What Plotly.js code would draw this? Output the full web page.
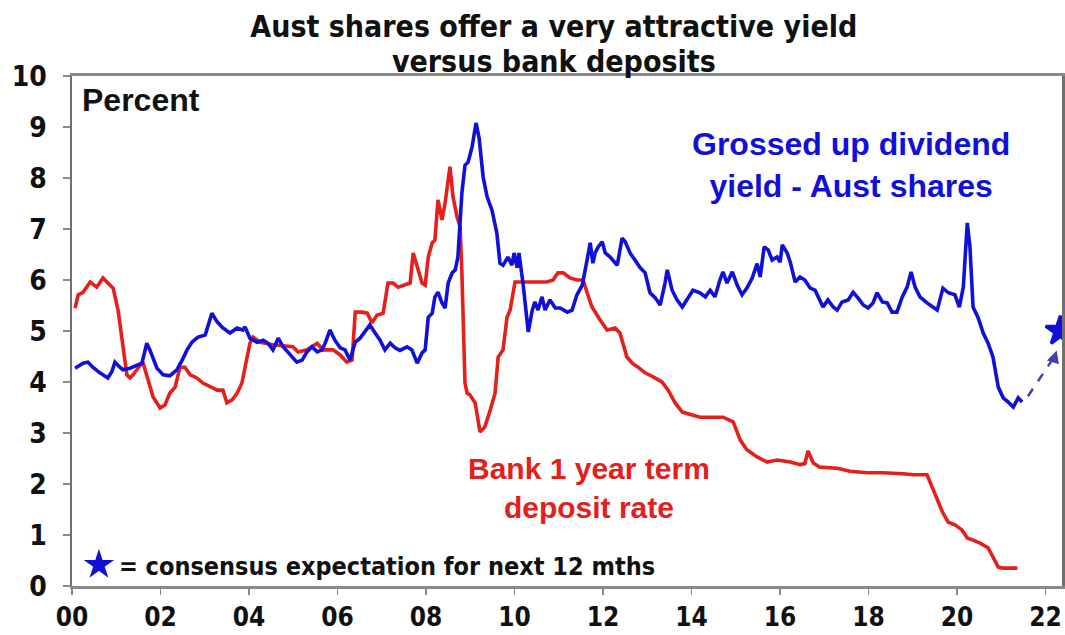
<!DOCTYPE html>
<html>
<head>
<meta charset="utf-8">
<script src="https://cdn.plot.ly/plotly-3.0.1.min.js"></script>
<style>html,body{margin:0;padding:0;background:#fff;}#chart{width:1065px;height:635px;}</style>
</head>
<body>
<div id="chart"></div>
<script>
// Grossed up dividend yield - Aust shares (decimal year, percent)
var divYears = [2000.07,2000.25,2000.36,2000.47,2000.63,2000.75,2000.81,2000.90,2000.97,2001.08,2001.15,2001.31,2001.47,2001.58,2001.69,2001.76,2001.92,2002.06,2002.21,2002.37,2002.49,2002.60,2002.71,2002.85,2003.01,2003.16,2003.28,2003.41,2003.57,2003.73,2003.86,2003.91,2004.02,2004.18,2004.32,2004.43,2004.54,2004.66,2004.77,2004.93,2005.08,2005.20,2005.31,2005.42,2005.54,2005.65,2005.72,2005.83,2005.94,2006.06,2006.17,2006.28,2006.40,2006.51,2006.62,2006.73,2006.85,2006.96,2007.07,2007.19,2007.30,2007.41,2007.57,2007.68,2007.80,2007.91,2007.98,2008.05,2008.14,2008.20,2008.27,2008.36,2008.43,2008.50,2008.59,2008.66,2008.72,2008.81,2008.88,2008.95,2009.04,2009.13,2009.20,2009.29,2009.38,2009.49,2009.60,2009.67,2009.74,2009.85,2009.94,2009.99,2010.06,2010.10,2010.19,2010.31,2010.40,2010.46,2010.53,2010.62,2010.69,2010.80,2010.92,2011.03,2011.19,2011.30,2011.41,2011.53,2011.64,2011.71,2011.77,2011.82,2011.89,2011.98,2012.05,2012.16,2012.32,2012.43,2012.50,2012.61,2012.72,2012.84,2012.95,2013.06,2013.18,2013.29,2013.40,2013.45,2013.56,2013.67,2013.79,2013.90,2014.03,2014.19,2014.31,2014.42,2014.53,2014.64,2014.71,2014.80,2014.92,2015.03,2015.14,2015.25,2015.37,2015.48,2015.55,2015.64,2015.73,2015.82,2015.93,2016.00,2016.05,2016.16,2016.23,2016.34,2016.45,2016.56,2016.68,2016.79,2016.90,2016.97,2017.08,2017.20,2017.29,2017.40,2017.54,2017.65,2017.76,2017.88,2017.99,2018.10,2018.19,2018.31,2018.42,2018.53,2018.64,2018.76,2018.87,2018.96,2019.05,2019.16,2019.32,2019.39,2019.55,2019.68,2019.80,2019.95,2020.05,2020.14,2020.23,2020.29,2020.36,2020.47,2020.59,2020.70,2020.81,2020.93,2021.04,2021.15,2021.27,2021.38,2021.47];
var divValues = [4.27,4.37,4.39,4.29,4.18,4.10,4.08,4.20,4.39,4.29,4.24,4.27,4.33,4.37,4.76,4.63,4.27,4.14,4.12,4.24,4.43,4.63,4.78,4.88,4.92,5.35,5.18,5.06,4.96,5.06,5.02,5.08,4.86,4.78,4.82,4.76,4.63,4.86,4.69,4.53,4.39,4.43,4.59,4.69,4.59,4.63,4.76,5.02,4.82,4.67,4.63,4.43,4.78,4.86,4.98,5.12,4.96,4.82,4.63,4.76,4.67,4.62,4.69,4.63,4.37,4.57,4.63,5.27,5.35,5.67,5.76,5.55,5.45,5.94,6.14,6.20,6.45,7.71,8.25,8.31,8.61,9.08,8.78,8.02,7.63,7.37,6.92,6.33,6.29,6.45,6.29,6.53,6.24,6.53,5.94,4.98,5.41,5.57,5.41,5.67,5.41,5.61,5.45,5.45,5.37,5.41,5.71,5.90,6.40,6.73,6.33,6.53,6.65,6.75,6.53,6.45,6.29,6.82,6.75,6.53,6.39,6.24,6.14,5.75,5.65,5.51,5.94,6.20,5.80,5.61,5.47,5.61,5.80,5.75,5.67,5.80,5.67,6.00,6.16,5.94,6.16,5.90,5.71,5.84,6.04,6.32,6.06,6.65,6.59,6.39,6.45,6.35,6.69,6.53,6.35,5.96,6.06,6.00,5.84,5.80,5.61,5.47,5.61,5.47,5.41,5.57,5.61,5.76,5.65,5.51,5.45,5.55,5.75,5.57,5.55,5.37,5.37,5.67,5.86,6.16,5.86,5.67,5.55,5.51,5.41,5.84,5.75,5.71,5.47,5.86,7.12,6.65,5.47,5.27,4.96,4.76,4.49,3.90,3.69,3.61,3.51,3.69,3.61];

// Bank 1 year term deposit rate (decimal year, percent)
var depYears = [2000.07,2000.14,2000.25,2000.41,2000.56,2000.70,2000.81,2000.93,2001.04,2001.15,2001.24,2001.31,2001.38,2001.49,2001.60,2001.72,2001.83,2001.99,2002.10,2002.21,2002.33,2002.44,2002.55,2002.67,2002.82,2002.96,2003.12,2003.28,2003.41,2003.50,2003.62,2003.73,2003.84,2003.95,2004.02,2004.09,2004.25,2004.54,2004.86,2004.99,2005.11,2005.31,2005.54,2005.67,2005.90,2006.06,2006.21,2006.33,2006.40,2006.55,2006.67,2006.78,2006.89,2007.03,2007.14,2007.25,2007.37,2007.53,2007.64,2007.71,2007.82,2007.91,2007.98,2008.05,2008.14,2008.20,2008.27,2008.36,2008.43,2008.54,2008.61,2008.70,2008.77,2008.81,2008.88,2008.93,2008.99,2009.11,2009.22,2009.33,2009.45,2009.56,2009.63,2009.74,2009.83,2009.90,2010.01,2010.42,2010.73,2010.87,2010.98,2011.10,2011.25,2011.41,2011.55,2011.64,2011.75,2011.93,2012.09,2012.27,2012.38,2012.54,2012.66,2012.79,2012.95,2013.13,2013.33,2013.47,2013.63,2013.79,2013.97,2014.19,2014.49,2014.71,2014.94,2015.10,2015.25,2015.48,2015.71,2015.93,2016.23,2016.45,2016.56,2016.63,2016.75,2016.90,2017.29,2017.58,2017.97,2018.33,2018.78,2019.01,2019.32,2019.44,2019.55,2019.68,2019.80,2019.95,2020.11,2020.23,2020.36,2020.52,2020.70,2020.81,2020.93,2021.04,2021.20,2021.36];
var depValues = [5.45,5.71,5.76,5.96,5.86,6.04,5.94,5.84,5.41,4.69,4.14,4.08,4.14,4.27,4.39,4.04,3.71,3.49,3.55,3.78,3.90,4.29,4.29,4.14,4.08,3.98,3.90,3.84,3.84,3.59,3.65,3.78,3.98,4.43,4.76,4.88,4.78,4.73,4.69,4.69,4.59,4.63,4.76,4.63,4.63,4.53,4.39,4.43,5.37,5.37,5.35,5.16,5.31,5.35,5.94,5.94,5.86,5.90,5.94,6.53,6.20,5.94,5.90,6.45,6.73,6.78,7.57,7.18,7.51,8.22,7.63,7.24,7.04,6.14,3.98,3.78,3.75,3.59,3.02,3.12,3.45,3.78,4.49,4.63,5.27,5.41,5.96,5.96,5.96,6.00,6.14,6.14,6.04,6.00,6.00,5.75,5.47,5.22,5.02,5.06,4.96,4.49,4.37,4.29,4.18,4.10,4.00,3.84,3.59,3.41,3.37,3.31,3.31,3.31,3.22,2.86,2.67,2.53,2.43,2.47,2.43,2.38,2.40,2.65,2.41,2.33,2.31,2.25,2.22,2.22,2.20,2.18,2.18,1.94,1.69,1.43,1.25,1.20,1.10,0.94,0.90,0.84,0.75,0.57,0.37,0.35,0.35,0.35];

// Consensus expectation for next 12 months
var consensusYear = [2022.33];
var consensusValue = [5.0];
var pathYears = [2021.60, 2022.20];
var pathValues = [3.72, 4.50];

var tickVals = [2000,2002,2004,2006,2008,2010,2012,2014,2016,2018,2020,2022];
var tickText = ['00','02','04','06','08','10','12','14','16','18','20','22'];

var BLUE = '#1010d8';
var RED = '#e3201b';
var NARROW = '"DejaVu Sans Condensed", "Liberation Sans Narrow", sans-serif';
var WIDE = '"Liberation Sans", Arial, sans-serif';

var traces = [
  {x: depYears, y: depValues, type: 'scatter', mode: 'lines', line: {color: RED, width: 3.6}, showlegend: false, hoverinfo: 'skip'},
  {x: divYears, y: divValues, type: 'scatter', mode: 'lines', line: {color: BLUE, width: 3.6}, showlegend: false, hoverinfo: 'skip'},
  {x: pathYears, y: pathValues, type: 'scatter', mode: 'lines', line: {color: '#4040b0', width: 2.5, dash: 'dash'}, showlegend: false, hoverinfo: 'skip'},
  {x: consensusYear, y: consensusValue, type: 'scatter', mode: 'markers', cliponaxis: false,
   name: '= consensus expectation for next 12 mths',
   marker: {symbol: 'star', size: 22, color: BLUE, line: {color: BLUE, width: 3}}, showlegend: true}
];

var layout = {
  width: 1065, height: 635,
  margin: {l: 72, r: 3, t: 76, b: 49},
  paper_bgcolor: '#ffffff', plot_bgcolor: '#ffffff',
  title: {
    text: '<span style="font-size:30px">Aust shares offer a very attractive yield</span><br><span style="font-size:30px">versus bank deposits</span>',
    font: {family: NARROW, size: 27, color: '#111', weight: 'bold'},
    x: 0.52, xanchor: 'center', xref: 'container',
    y: 0.942, yanchor: 'top', yref: 'container'
  },
  xaxis: {
    range: [2000, 2022.37], tickmode: 'array', tickvals: tickVals, ticktext: tickText,
    showgrid: false, zeroline: false, showline: true, mirror: true, linecolor: '#8a8a8a', linewidth: 3,
    ticks: 'outside', ticklen: 6, tickcolor: '#8a8a8a', tickwidth: 1.5,
    tickfont: {family: NARROW, size: 26, color: '#111', weight: 'bold'}
  },
  yaxis: {
    range: [0, 10], tickvals: [0,1,2,3,4,5,6,7,8,9,10],
    showgrid: false, zeroline: false, showline: true, mirror: true, linecolor: '#707070', linewidth: 2.5,
    ticks: 'outside', ticklen: 7, tickcolor: '#8a8a8a', tickwidth: 1.5, ticklabelstandoff: 10,
    tickfont: {family: NARROW, size: 28, color: '#111', weight: 'bold'}
  },
  showlegend: true,
  legend: {
    x: 0.007, y: 0.041, xanchor: 'left', yanchor: 'middle', xref: 'paper', yref: 'paper',
    bgcolor: 'rgba(0,0,0,0)', borderwidth: 0,
    font: {family: NARROW, size: 25, color: '#111', weight: 'bold'},
    itemsizing: 'trace'
  },
  annotations: [
    {text: 'Percent', xref: 'paper', yref: 'paper', x: 0.008, y: 0.953, xanchor: 'left', yanchor: 'middle', showarrow: false,
     font: {family: WIDE, size: 32, color: '#111', weight: 'bold'}},
    {text: 'Grossed up dividend<br>yield - Aust shares', xref: 'paper', yref: 'paper', x: 0.787, y: 0.826, xanchor: 'center', yanchor: 'middle', showarrow: false,
     font: {family: WIDE, size: 32, color: BLUE, weight: 'bold'}},
    {text: 'Bank 1 year term<br>deposit rate', xref: 'paper', yref: 'paper', x: 0.522, y: 0.193, xanchor: 'center', yanchor: 'middle', showarrow: false,
     font: {family: WIDE, size: 30, color: RED, weight: 'bold'}},
    {text: '', x: 2022.25, y: 4.62, ax: 2022.17, ay: 4.40, xref: 'x', yref: 'y', axref: 'x', ayref: 'y',
     showarrow: true, arrowhead: 2, arrowsize: 1, arrowwidth: 2.5, arrowcolor: '#4040b0'}
  ]
};

Plotly.newPlot('chart', traces, layout, {displayModeBar: false, staticPlot: true});
</script>
</body>
</html>
